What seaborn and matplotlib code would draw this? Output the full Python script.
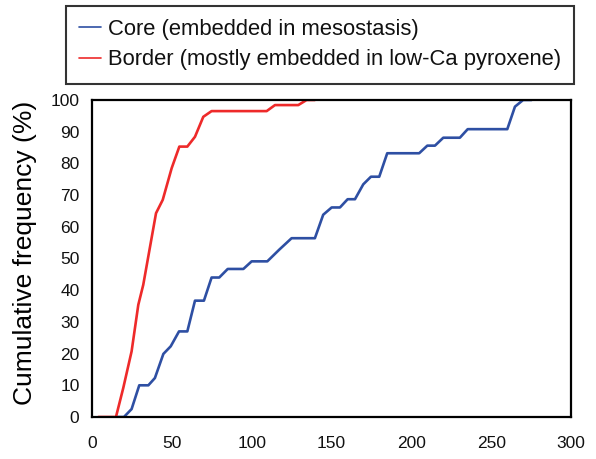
import matplotlib
matplotlib.use("Agg")
import matplotlib.pyplot as plt
import seaborn as sns
import pandas as pd
from matplotlib.lines import Line2D

# ---- data ----
core_label = "Core (embedded in mesostasis)"
border_label = "Border (mostly embedded in low-Ca pyroxene)"

core_x = [15, 20, 24.8, 29.6, 35.3, 39.4, 44.7, 49.3, 54.5, 59.7, 64.5, 70.1, 74.9, 79.7,
          85, 94.8, 100, 109.8, 117.3, 125, 139.6, 144.8, 150.1, 155.3, 160.1, 164.7,
          169.9, 174.7, 179.9, 184.9, 204.9, 210, 214.8, 220, 230.4, 235.3, 260.1,
          264.9, 270, 275.3]
core_y = [0, 0, 2.5, 10, 10, 12.3, 19.9, 22.3, 27, 27, 36.7, 36.7, 44, 44,
          46.7, 46.7, 49.1, 49.1, 52.8, 56.4, 56.4, 63.8, 66.1, 66.1, 68.7, 68.7,
          73.4, 75.8, 75.8, 83.2, 83.2, 85.6, 85.6, 88.1, 88.1, 90.8, 90.8,
          97.9, 100, 100]

border_x = [4, 15, 19.6, 24.8, 29, 32.1, 40.1, 44.3, 49.9, 54.7, 59.7, 64.5, 69.7,
            74.9, 109.4, 114.6, 129.2, 134.4, 139.6]
border_y = [0, 0, 9.2, 20.7, 35.4, 41.7, 64.3, 68.5, 78.5, 85.3, 85.3, 88.4, 94.7,
            96.5, 96.5, 98.4, 98.4, 100, 100]

x_ticks = [0, 50, 100, 150, 200, 250, 300]
y_ticks = [0, 10, 20, 30, 40, 50, 60, 70, 80, 90, 100]
y_title = "Cumulative frequency (%)"

df = pd.concat([
    pd.DataFrame({"x": core_x, "y": core_y, "series": core_label}),
    pd.DataFrame({"x": border_x, "y": border_y, "series": border_label}),
], ignore_index=True)

sns.set_style("white")
plt.rcParams["font.family"] = ["Liberation Sans", "DejaVu Sans"]

W, H = 596, 459
fig = plt.figure(figsize=(W / 100, H / 100), dpi=100)
left, right, top, bottom = 92, 571, 100, 417
ax = fig.add_axes([left / W, 1 - bottom / H, (right - left) / W, (bottom - top) / H])

palette = {core_label: "#2e4fa3", border_label: "#ee2a2a"}
sns.lineplot(data=df, x="x", y="y", hue="series", palette=palette,
             estimator=None, sort=False, linewidth=1.9, ax=ax, legend=False)

ax.set_xlim(0, 300)
ax.set_ylim(0, 100)
ax.set_xticks(x_ticks)
ax.set_yticks(y_ticks)
ax.set_xlabel("")
ax.set_ylabel("")
fig.text(25 / W, 1 - 253 / H, y_title, rotation=90, ha="center", va="center",
         fontsize=19, color="black")
ax.tick_params(axis="both", direction="inout", length=8, width=1.5,
               color="black", labelsize=12.5, labelcolor="#111111")
ax.tick_params(axis="y", pad=5)
ax.tick_params(axis="x", pad=10)
for s in ax.spines.values():
    s.set_visible(True)
    s.set_color("black")
    s.set_linewidth(1.6)

handles = [Line2D([], [], color=palette[core_label], linewidth=1.2),
           Line2D([], [], color=palette[border_label], linewidth=1.2)]
leg = fig.legend(handles, [core_label, border_label],
                 loc="upper left", bbox_to_anchor=(66 / W, 1 - 6 / H),
                 frameon=True, fancybox=False, fontsize=15.8,
                 handlelength=1.0, handletextpad=0.32, borderpad=0.6,
                 labelspacing=0.42, borderaxespad=0)
leg.get_frame().set_edgecolor("black")
leg.get_frame().set_linewidth(1.5)
for t in leg.get_texts():
    t.set_color("#111111")

fig.savefig("out.png", dpi=100)
